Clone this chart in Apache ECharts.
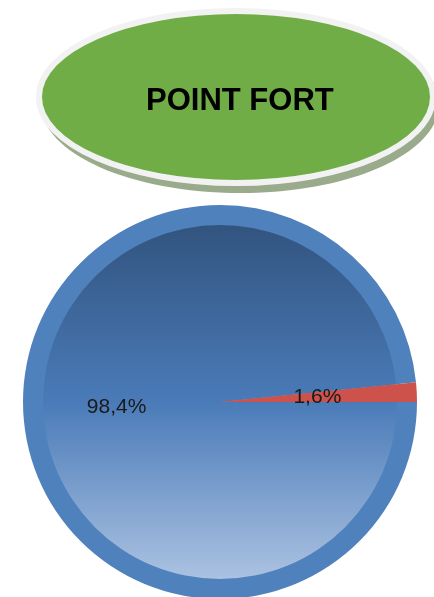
<!DOCTYPE html>
<html>
<head>
<meta charset="utf-8">
<script src="https://cdn.jsdelivr.net/npm/echarts@6/dist/echarts.min.js"></script>
<style>
html,body{margin:0;padding:0;background:#fff;}
#chart{width:434px;height:597px;}
</style>
</head>
<body>
<div id="chart"></div>
<script>
const titleText = 'POINT FORT';
const categories = ['Point fort', 'Autre'];
const values = [98.4, 1.6];

const fmt = p => p.value.toFixed(1).replace('.', ',') + '%';
const chart = echarts.init(document.getElementById('chart'), null, {renderer: 'canvas'});

const sliceColors = ['#4f81bd', '#cc524b'];
const innerColors = [
  new echarts.graphic.LinearGradient(0, 0, 0, 1, [
    {offset: 0, color: '#32547f'},
    {offset: 0.5, color: '#4a7bb8'},
    {offset: 1, color: '#abc2e1'}
  ]),
  '#cc524b'
];

const outerData = categories.map((c, i) => ({
  name: c, value: values[i], itemStyle: {color: sliceColors[i]}
}));
const innerData = categories.map((c, i) => ({
  name: c, value: values[i], itemStyle: {color: innerColors[i]}
}));
const labelData = categories.map((c, i) => ({
  name: c, value: values[i], itemStyle: {color: 'rgba(0,0,0,0)'},
  label: {offset: i === 0 ? [-2, 0] : [-4, 0]}
}));

chart.setOption({
  animation: false,
  backgroundColor: '#ffffff',
  title: {
    text: titleText,
    left: 146, top: 86, padding: 0,
    textStyle: {fontFamily: 'Liberation Sans, Arial, sans-serif', fontSize: 31, fontWeight: 'bold', color: '#000'}
  },
  graphic: [
    {type: 'ellipse', z: -10, shape: {cx: 240, cy: 104, rx: 199, ry: 89}, style: {fill: '#9aab8c'}},
    {type: 'ellipse', z: -9, shape: {cx: 236, cy: 97, rx: 197, ry: 86}, style: {fill: '#70ad47', stroke: '#f2f2f2', lineWidth: 6}}
  ],
  series: [
    {
      type: 'pie', center: [220, 402], radius: [0, 197], startAngle: 0, clockwise: true,
      silent: true, data: outerData,
      label: {show: false}, labelLine: {show: false}, z: 2
    },
    {
      type: 'pie', center: [220, 402], radius: [0, 177], startAngle: 0, clockwise: true,
      silent: true, data: innerData,
      label: {show: false}, labelLine: {show: false}, z: 3
    },
    {
      type: 'pie', center: [220, 402], radius: [0, 197], startAngle: 0, clockwise: true,
      silent: true, data: labelData,
      label: {show: true, position: 'inner', formatter: fmt, fontFamily: 'Liberation Sans, Arial, sans-serif', fontSize: 21, color: '#1a1a1a'},
      labelLine: {show: false}, z: 4
    }
  ]
});
</script>
</body>
</html>
